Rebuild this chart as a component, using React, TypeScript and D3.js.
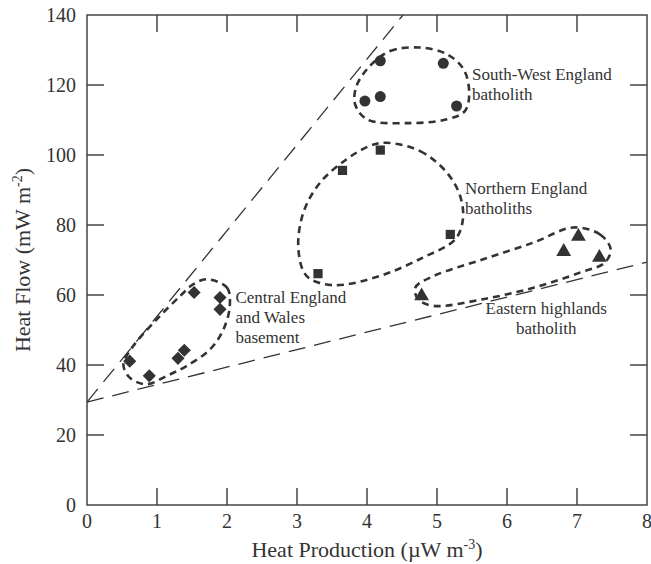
import React from 'react';
import * as d3 from 'd3';

// Data in plot units: x = heat production (µW m-3), y = heat flow (mW m-2)
const southWest = [[4.19, 126.9], [5.09, 126.2], [3.97, 115.4], [4.19, 116.7], [5.28, 114.0]];
const northern = [[4.19, 101.4], [3.65, 95.6], [5.19, 77.3], [3.3, 66.1]];
const eastern = [[7.02, 76.7], [6.81, 72.4], [7.32, 70.7], [4.78, 59.7]];
const central = [[0.61, 41.1], [0.89, 36.9], [1.3, 41.9], [1.39, 44.2], [1.53, 60.7], [1.9, 59.3], [1.9, 55.9]];

// Outline loops around each group
const southWestLoop = [[4.04, 125.4], [4.33, 129.7], [4.76, 130.7], [5.14, 128.8], [5.38, 124.5], [5.46, 117.8], [5.4, 112.6], [5.14, 110.2], [4.57, 109.1], [4.0, 110.2], [3.83, 114.5], [3.85, 119.7]];
const northernLoop = [[4.28, 103.5], [4.76, 101.1], [5.14, 95.0], [5.33, 88.3], [5.37, 81.6], [5.26, 75.9], [4.8, 70.7], [4.19, 65.5], [3.52, 62.8], [3.14, 65.4], [3.02, 73.1], [3.09, 83.5], [3.33, 92.1], [3.71, 98.8], [4.04, 102.6]];
const easternLoop = [[6.95, 79.3], [7.33, 77.3], [7.48, 73.1], [7.4, 69.3], [7.04, 66.4], [6.38, 62.1], [5.66, 58.8], [4.95, 56.9], [4.73, 58.8], [4.69, 62.1], [4.95, 65.4], [5.66, 70.2], [6.38, 75.0]];
const centralLoop = [[1.71, 64.5], [2.0, 62.1], [2.04, 56.9], [1.95, 50.2], [1.76, 44.5], [1.42, 39.7], [1.14, 36.9], [0.85, 34.5], [0.61, 36.4], [0.52, 40.2], [0.66, 45.4], [1.0, 53.1], [1.33, 59.7], [1.52, 63.1]];

// Reference lines: intercept and slopes
const intercept = 29.4;
const slopes = [24.5, 5.0];

const xTicks = [0, 1, 2, 3, 4, 5, 6, 7, 8];
const yTicks = [0, 20, 40, 60, 80, 100, 120, 140];

const labels = [
  { lines: ['South-West England', 'batholith'], x: 5.5, y: 121.3, anchor: 'start' },
  { lines: ['Northern England', 'batholiths'], x: 5.4, y: 88.8, anchor: 'start' },
  { lines: ['Eastern highlands', 'batholith'], x: 6.56, y: 54.7, anchor: 'middle' },
  { lines: ['Central England', 'and Wales', 'basement'], x: 2.12, y: 57.8, anchor: 'start' },
];

const ink = '#333';

export default function App() {
  const width = 651;
  const height = 564;
  const x = d3.scaleLinear().domain([0, 8]).range([87, 647]);
  const y = d3.scaleLinear().domain([0, 140]).range([505, 15]);

  const loop = d3.line<number[]>()
    .x(d => x(d[0]))
    .y(d => y(d[1]))
    .curve(d3.curveCatmullRomClosed.alpha(0.5));

  const tickLen = 17;
  const font = '"Liberation Serif", "Times New Roman", serif';

  // clip reference lines at plot top
  const refLine = (slope: number) => {
    const xEnd = Math.min(8, (140 - intercept) / slope);
    return { x1: x(0), y1: y(intercept), x2: x(xEnd), y2: y(intercept + slope * xEnd) };
  };

  const diamond = d3.symbol().type(d3.symbolDiamond2).size(110)();
  const square = d3.symbol().type(d3.symbolSquare).size(85)();
  const triangle = d3.symbol().type(d3.symbolTriangle).size(95)();

  return (
    <svg width={width} height={height} style={{ position: 'absolute', left: 0, top: 0, background: '#fff' }} fontFamily={font}>
      {/* reference lines */}
      {slopes.map((s, i) => {
        const l = refLine(s);
        return <line key={i} {...l} stroke={ink} strokeWidth={1.3} strokeDasharray="17 9" />;
      })}

      {/* group outlines */}
      {[southWestLoop, northernLoop, easternLoop, centralLoop].map((pts, i) => (
        <path key={i} d={loop(pts) || ''} fill="none" stroke={ink} strokeWidth={2.6} strokeDasharray="7 5" />
      ))}

      {/* points */}
      {southWest.map((d, i) => <circle key={'c' + i} cx={x(d[0])} cy={y(d[1])} r={5.5} fill={ink} />)}
      {northern.map((d, i) => <path key={'s' + i} d={square || ''} transform={`translate(${x(d[0])},${y(d[1])})`} fill={ink} />)}
      {eastern.map((d, i) => <path key={'t' + i} d={triangle || ''} transform={`translate(${x(d[0])},${y(d[1])})`} fill={ink} />)}
      {central.map((d, i) => <path key={'d' + i} d={diamond || ''} transform={`translate(${x(d[0])},${y(d[1])})`} fill={ink} />)}

      {/* group labels */}
      {labels.map((lb, i) => (
        <text key={i} x={x(lb.x)} y={y(lb.y)} fontSize={17} fill="#333" textAnchor={lb.anchor}>
          {lb.lines.map((t, j) => (
            <tspan key={j} x={x(lb.x)} dy={j === 0 ? 0 : 20}>{t}</tspan>
          ))}
        </text>
      ))}

      {/* frame and ticks */}
      <rect x={x(0)} y={y(140)} width={x(8) - x(0)} height={y(0) - y(140)} fill="none" stroke="#444" strokeWidth={1.5} />
      {xTicks.slice(1, -1).map(t => (
        <g key={'xt' + t}>
          <line x1={x(t)} x2={x(t)} y1={y(0)} y2={y(0) - tickLen} stroke="#444" strokeWidth={1.5} />
          <line x1={x(t)} x2={x(t)} y1={y(140)} y2={y(140) + tickLen} stroke="#444" strokeWidth={1.5} />
        </g>
      ))}
      {yTicks.slice(1, -1).map(t => (
        <g key={'yt' + t}>
          <line x1={x(0)} x2={x(0) + tickLen} y1={y(t)} y2={y(t)} stroke="#444" strokeWidth={1.5} />
          <line x1={x(8)} x2={x(8) - tickLen} y1={y(t)} y2={y(t)} stroke="#444" strokeWidth={1.5} />
        </g>
      ))}
      {xTicks.map(t => (
        <text key={'xl' + t} x={x(t)} y={528} fontSize={20} textAnchor="middle" fill="#333">{t}</text>
      ))}
      {yTicks.map(t => (
        <text key={'yl' + t} x={76} y={y(t) + 7} fontSize={20} textAnchor="end" fill="#333">{t}</text>
      ))}

      {/* axis titles */}
      <text x={367} y={557} fontSize={22} textAnchor="middle" fill="#333">
        Heat Production (µW m<tspan dy={-8} fontSize={14}>-3</tspan><tspan dy={8}>)</tspan>
      </text>
      <text transform={`translate(30,${(y(0) + y(140)) / 2}) rotate(-90)`} fontSize={22} textAnchor="middle" fill="#333">
        Heat Flow (mW m<tspan dy={-8} fontSize={14}>-2</tspan><tspan dy={8}>)</tspan>
      </text>
    </svg>
  );
}
